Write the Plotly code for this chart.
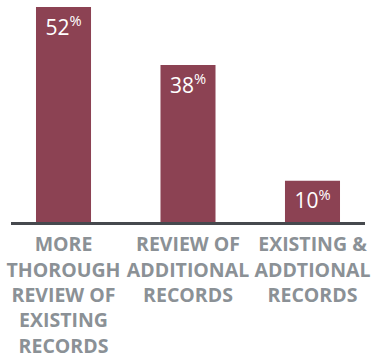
import plotly.graph_objects as go

categories = ["MORE<br>THOROUGH<br>REVIEW OF<br>EXISTING<br>RECORDS",
              "REVIEW OF<br>ADDITIONAL<br>RECORDS",
              "EXISTING &<br>ADDTIONAL<br>RECORDS"]
values = [52, 38, 10]
value_labels = [f"{v}<sup>%</sup>" for v in values]

fig = go.Figure(go.Bar(
    x=[0, 1, 2], y=values,
    width=0.442,
    marker=dict(color="#8c4253", line=dict(width=0)),
    text=value_labels,
    textposition="inside",
    insidetextanchor="end",
    textangle=0,
    constraintext="none",
    textfont=dict(family="Open Sans", size=21, color="white"),
    hoverinfo="skip",
))

fig.update_layout(
    width=371, height=362,
    margin=dict(l=11, r=6, t=7, b=140, autoexpand=False),
    paper_bgcolor="white", plot_bgcolor="white",
    showlegend=False,
    xaxis=dict(
        range=[-0.4217, 2.4217],
        tickmode="array", tickvals=[0, 1, 2], ticktext=categories,
        tickfont=dict(family="Open Sans", size=19.5, color="#8b9196", weight=700),
        showline=True, linecolor="#46494e", linewidth=2.5,
        showgrid=False, zeroline=False, ticks="", ticklabelstandoff=3,
        automargin=False, ticklabeloverflow="allow",
    ),
    yaxis=dict(range=[0, 52], visible=False, showgrid=False, zeroline=False),
)

fig.write_html("out.html")
